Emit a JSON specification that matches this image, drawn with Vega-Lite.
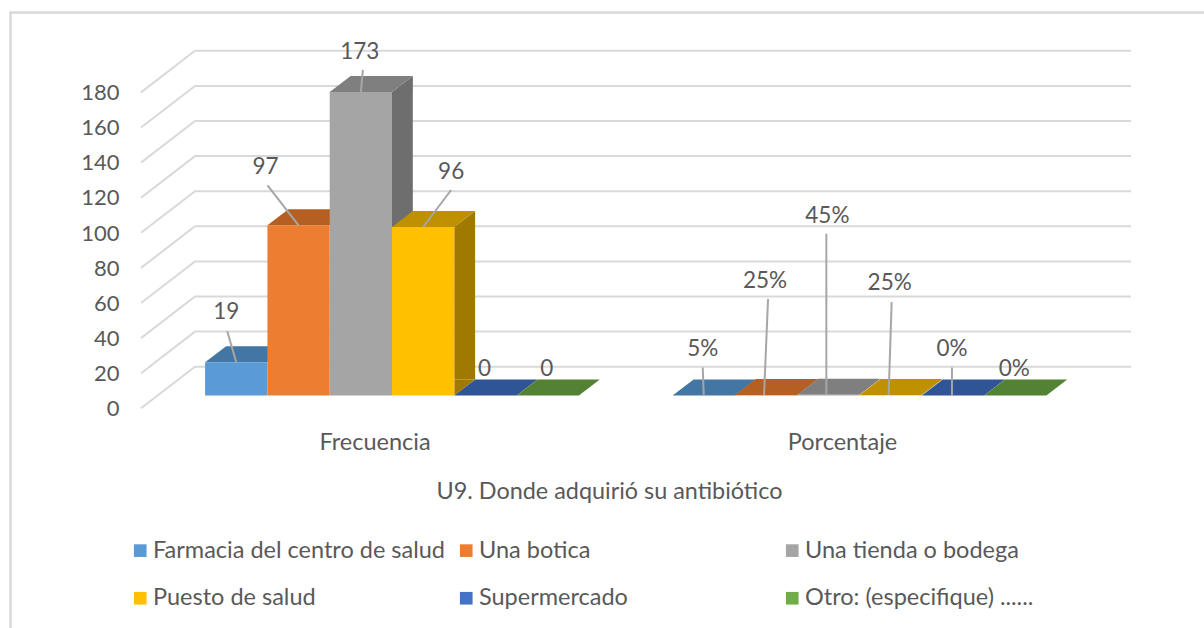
{
"$schema":"https://vega.github.io/schema/vega-lite/v6.json",
"width":1204,"height":628,"padding":0,"autosize":{"type":"none"},"background":"#ffffff",
"config":{"view":{"stroke":null},"font":"Lato","text":{"font":"Lato"}},
"datasets":{
"barras":[
{"id":"F1","medida":"Frecuencia","serie":"Farmacia del centro de salud","valor":19,"etiqueta":"19","altura":48.3},
{"id":"F2","medida":"Frecuencia","serie":"Una botica","valor":97,"etiqueta":"97","altura":130.8},
{"id":"F3","medida":"Frecuencia","serie":"Una tienda o bodega","valor":173,"etiqueta":"173","altura":196.3},
{"id":"F4","medida":"Frecuencia","serie":"Puesto de salud","valor":96,"etiqueta":"96","altura":128.1},
{"id":"F5","medida":"Frecuencia","serie":"Supermercado","valor":0,"etiqueta":"0","altura":15.7},
{"id":"F6","medida":"Frecuencia","serie":"Otro: (especifique) ......","valor":0,"etiqueta":"0","altura":15.7},
{"id":"P1","medida":"Porcentaje","serie":"Farmacia del centro de salud","valor":0.05,"etiqueta":"5%","altura":27},
{"id":"P2","medida":"Porcentaje","serie":"Una botica","valor":0.25,"etiqueta":"25%","altura":65.8},
{"id":"P3","medida":"Porcentaje","serie":"Una tienda o bodega","valor":0.45,"etiqueta":"45%","altura":102.8},
{"id":"P4","medida":"Porcentaje","serie":"Puesto de salud","valor":0.25,"etiqueta":"25%","altura":64.7},
{"id":"P5","medida":"Porcentaje","serie":"Supermercado","valor":0,"etiqueta":"0%","altura":27.2},
{"id":"P6","medida":"Porcentaje","serie":"Otro: (especifique) ......","valor":0,"etiqueta":"0%","altura":15.7}
],
"rejilla":[{"tick":0},{"tick":20},{"tick":40},{"tick":60},{"tick":80},{"tick":100},{"tick":120},{"tick":140},{"tick":160},{"tick":180}]
},
"data":{"name":"barras"},
"encoding":{
"x":{"field":"medida","type":"nominal","sort":["Frecuencia","Porcentaje"],
 "scale":{"type":"band","domain":["Frecuencia","Porcentaje"],"range":[158.25,1093.25],"paddingInner":0,"paddingOuter":0},
 "axis":{"orient":"bottom","offset":-198,"domain":false,"ticks":false,"grid":false,"labelAngle":0,"labelPadding":0,"labelOffset":-17,"labelFont":"Lato","labelFontSize":23.5,"labelColor":"#595959","labelBaseline":"top",
 "title":"U9. Donde adquirió su antibiótico","titleFont":"Lato","titleFontSize":23.4,"titleFontWeight":"normal","titleColor":"#595959","titleX":609,"titleY":50,"titleAnchor":"middle","titleAlign":"center"}},
"y":{"type":"quantitative","scale":{"domain":[0,180],"range":[395.5,79.6],"clamp":false,"nice":false},
 "axis":{"orient":"left","offset":-121,"values":[0,20,40,60,80,100,120,140,160,180],"domain":false,"ticks":false,"grid":false,"labelPadding":2,"labelOffset":13,"labelFont":"Lato","labelFontSize":22,"labelColor":"#595959","title":null}},
"xOffset":{"field":"serie","type":"nominal","sort":null,"scale":{"type":"band","domain":["Farmacia del centro de salud","Una botica","Una tienda o bodega","Puesto de salud","Supermercado","Otro: (especifique) ......"],"paddingInner":0,"paddingOuter":0.752}}
},
"layer":[
{"data":{"values":[{"marco":1}]},"mark":{"type":"point","shape":"M-381.5,240L-381.5,-383L820,-383","size":4,"filled":false,"stroke":"#d9d9d9","strokeWidth":2.5,"opacity":1},
 "encoding":{"x":{"datum":"Frecuencia"},"y":{"datum":0},"xOffset":null}},
{"data":{"name":"rejilla"},"mark":{"type":"point","shape":"M-251,12.8L-197,-28.8L739,-28.8","size":4,"filled":false,"stroke":"#d9d9d9","strokeWidth":2,"opacity":1},
 "encoding":{"x":{"datum":"Frecuencia"},"y":{"field":"tick","type":"quantitative"},"xOffset":null}},
{"transform":[{"filter":"datum.id=='F3'"}],"mark":{"type":"rule","strokeWidth":20.85,"xOffset":10.4,"strokeCap":"butt","stroke":"#6e6e6e"},
 "encoding":{"xOffset":null,"y":{"field":"valor","type":"quantitative"},"y2":{"datum":9.1}}},
{"transform":[{"filter":"datum.id=='F4'"}],"mark":{"type":"rule","strokeWidth":20.85,"xOffset":72.7,"strokeCap":"butt","stroke":"#a07a00"},
 "encoding":{"xOffset":null,"y":{"field":"valor","type":"quantitative"},"y2":{"datum":9.1}}},
{"transform":[{"filter":"datum.id=='F3'||datum.id=='F4'"}],"mark":{"type":"point","shape":"M31.15,0L52,-16L52,0Z","size":4,"filled":true,"opacity":1,"stroke":null},
 "encoding":{"y":{"field":"valor","type":"quantitative"},
 "fill":{"field":"serie","type":"nominal","scale":{"domain":["Una tienda o bodega","Puesto de salud"],"range":["#6e6e6e","#a07a00"]},"legend":null}}},
{"transform":[{"filter":"datum.id=='F4'"}],"mark":{"type":"point","shape":"M31.15,0L31.15,-16L52,-16Z","size":4,"filled":true,"opacity":1,"stroke":null,"fill":"#a07a00"},
 "encoding":{"y":{"datum":0}}},
{"mark":{"type":"point","shape":"M-31.15,0L31.15,0L52,-16L-10.15,-16Z","size":4,"filled":true,"opacity":1,"stroke":null},
 "encoding":{"y":{"field":"valor","type":"quantitative"},
 "fill":{"field":"serie","type":"nominal","scale":{"domain":["Farmacia del centro de salud","Una botica","Una tienda o bodega","Puesto de salud","Supermercado","Otro: (especifique) ......"],"range":["#4476a3","#b65f22","#7f7f7f","#bf9000","#2f5597","#548235"]},"legend":null}}},
{"mark":{"type":"bar"},
 "encoding":{"y":{"field":"valor","type":"quantitative"},
 "color":{"field":"serie","type":"nominal","scale":{"domain":["Farmacia del centro de salud","Una botica","Una tienda o bodega","Puesto de salud","Supermercado","Otro: (especifique) ......"],"range":["#5b9bd5","#ed7d31","#a5a5a5","#ffc000","#4472c4","#70ad47"]},
 "legend":{"title":null,"orient":"none","legendX":128.5,"legendY":538.5,"columns":3,"direction":"horizontal","gridAlign":"all","columnPadding":9,"rowPadding":23,"symbolType":"square","symbolSize":160,"symbolStrokeWidth":0,"symbolOpacity":1,"labelFont":"Lato","labelFontSize":23.5,"labelColor":"#595959","labelOffset":1,"labelLimit":400}}}},
{"transform":[{"filter":{"field":"id","oneOf":["F1","F2","F3","F4","P1","P2","P3","P4","P5"]}}],
 "mark":{"type":"point","size":4,"filled":false,"stroke":"#a6a6a6","strokeWidth":2,"opacity":1},
 "encoding":{"y":{"field":"valor","type":"quantitative"},
 "shape":{"field":"id","type":"nominal","scale":{"domain":["F1","F2","F3","F4","P1","P2","P3","P4","P5"],"range":["M0,0L-9,-31","M0,0L-31,-40","M0,0L2,-22","M0,0L28,-37","M0,0L-1,-28","M-2,0L2,-96","M-2,0L-2,-161","M-2,0L1,-93","M-1,0L-1,-28"]},"legend":null}}},
{"transform":[{"filter":{"field":"id","oneOf":["F3","F5","F6","P1","P2","P3","P4","P5","P6"]}}],
 "mark":{"type":"text","font":"Lato","fontSize":22.5,"color":"#595959","dx":-1,"dy":1,"baseline":"middle"},
 "encoding":{"y":{"field":"altura","type":"quantitative"},"text":{"field":"etiqueta"}}},
{"transform":[{"filter":"datum.id=='F1'"}],
 "mark":{"type":"text","font":"Lato","fontSize":22.5,"color":"#595959","dx":-10,"dy":1,"baseline":"middle"},
 "encoding":{"y":{"field":"altura","type":"quantitative"},"text":{"field":"etiqueta"}}},
{"transform":[{"filter":"datum.id=='F2'"}],
 "mark":{"type":"text","font":"Lato","fontSize":22.5,"color":"#595959","dx":-33,"dy":1,"baseline":"middle"},
 "encoding":{"y":{"field":"altura","type":"quantitative"},"text":{"field":"etiqueta"}}},
{"transform":[{"filter":"datum.id=='F4'"}],
 "mark":{"type":"text","font":"Lato","fontSize":22.5,"color":"#595959","dx":28,"dy":1,"baseline":"middle"},
 "encoding":{"y":{"field":"altura","type":"quantitative"},"text":{"field":"etiqueta"}}}
],
"resolve":{"scale":{"color":"independent","fill":"independent"}}
}
